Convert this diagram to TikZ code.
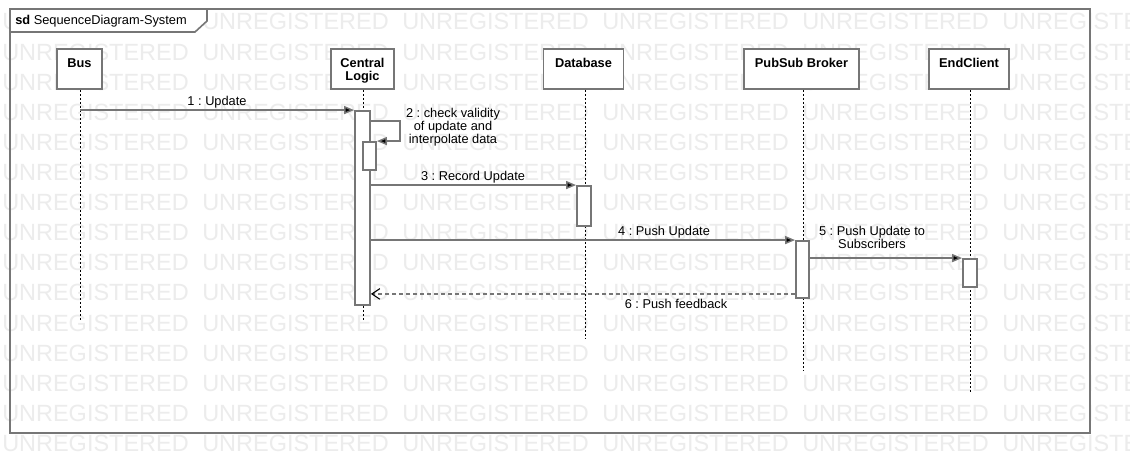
\documentclass[tikz,border=0pt]{standalone}
\usepackage{fontspec}
\setmainfont{Liberation Sans}
\usetikzlibrary{arrows.meta,calc}
\definecolor{lg}{RGB}{118,118,118}
\definecolor{wmc}{RGB}{236,236,236}
\frenchspacing
\begin{document}
\begin{tikzpicture}[x=0.75pt,y=-0.75pt,
  lbl/.style={font=\fontsize{9.6pt}{9.75pt}\selectfont, inner sep=0pt, align=center, text=black},
  headbox/.style={draw=lg, fill=white, line width=1.4pt, inner sep=0pt, minimum height=30pt},
  headtext/.style={font=\fontsize{9.6pt}{9.75pt}\selectfont\bfseries, inner sep=0pt, align=center},
  actbox/.style={draw=lg, fill=white, line width=1.4pt, inner sep=0pt},
  lifeline/.style={draw=black, line width=0.75pt, dash pattern=on 1.5pt off 1.5pt},
  msg/.style={draw=lg, line width=1.1pt, -{Triangle[length=7.5pt,width=6pt,fill=black]}},
  retmsg/.style={draw=lg, line width=1.1pt, dash pattern=on 3pt off 2.25pt, -{Straight Barb[length=6pt,width=8pt,line width=0.8pt,black]}},
  wmark/.style={font=\fontsize{17.6pt}{18pt}\selectfont, text=wmc, inner sep=0pt, anchor=base west}
]
\useasboundingbox (0,0) rectangle (1130,474);
\fill[white] (0,0) rectangle (1130,474);
% watermark
\begin{scope}
\clip (0,0) rectangle (1130,474);
\foreach \k in {0,...,14}{
  \foreach \j in {0,...,5}{
    \node[wmark] (wm-\j-\k) at ({2+200*\j},{30+30.1*\k}) {UNREGISTERED};
  }
}
\end{scope}
% frame
\draw[lg, line width=1.5pt] (10,9) rectangle (1090,433);
\filldraw[draw=lg, fill=white, line width=1.2pt] (10,9) -- (10,32) -- (195,32) -- (207,21) -- (207,9) -- cycle;
\node[lbl, anchor=base west] (title) at (15,25) {{\bfseries sd}\ SequenceDiagram-System};
% heads
\node[headbox, minimum width=33.75pt] (bus) at (79.5,69) {};
\node[headbox, minimum width=47.25pt] (cl) at (362.5,69) {};
\node[headbox, minimum width=60pt] (db) at (583.5,69) {};
\node[headbox, minimum width=86.25pt] (pb) at (801.5,69) {};
\node[headbox, minimum width=60pt] (ec) at (969,69) {};
\node[headtext] (bust) at ($(bus.north)+(0,15)$) {Bus};
\node[headtext] (clt) at ($(cl.north)+(0,22.5)$) {Central\\Logic};
\node[headtext] (dbt) at ($(db.north)+(0,15)$) {Database};
\node[headtext] (pbt) at ($(pb.north)+(0,15)$) {PubSub Broker};
\node[headtext] (ect) at ($(ec.north)+(0,15)$) {EndClient};
% lifelines
\coordinate (busend) at (80,320);
\coordinate (clend) at (363,320);
\coordinate (dbend) at (585,338);
\coordinate (pbend) at (803,370);
\coordinate (ecend) at (970,393);
\draw[lifeline] (bus.south -| busend) -- (busend);
\draw[lifeline] (cl.south -| clend) -- (clend);
\draw[lifeline] (db.south -| dbend) -- (dbend);
\draw[lifeline] (pb.south -| pbend) -- (pbend);
\draw[lifeline] (ec.south -| ecend) -- (ecend);
% activations
\node[actbox, minimum width=11.25pt, minimum height=145.5pt] (cl1) at (362.5,208) {};
\node[actbox, minimum width=9.75pt, minimum height=21pt] (cl2) at (369.5,156) {};
\node[actbox, minimum width=10.5pt, minimum height=30pt] (db1) at (584,206) {};
\node[actbox, minimum width=9.75pt, minimum height=42.75pt] (pb1) at (802.5,269.5) {};
\node[actbox, minimum width=10.5pt, minimum height=21pt] (ec1) at (970,273) {};
% messages
\draw[msg] (busend |- cl1.north west) -- (cl1.north west);
\node[lbl] (l1) at (217,102.5) {1 : Update};
\coordinate (m2s) at ($(cl1.north east)+(0,11)$);
\coordinate (m2c) at ($(cl2.north east)+(23,0)$);
\draw[msg] (m2s) -| (m2c) -- (cl2.north east);
\node[lbl] (l2) at (453,127) {2 : check validity\\of update and\\interpolate data};
\draw[msg] (cl1.east |- db1.north west) -- (db1.north west);
\node[lbl] (l3) at (473,177.5) {3 : Record Update};
\draw[msg] (cl1.east |- pb1.north west) -- (pb1.north west);
\node[lbl] (l4) at (664,232.5) {4 : Push Update};
\draw[msg] (pb1.east |- ec1.north west) -- (ec1.north west);
\node[lbl] (l5) at (872,237.5) {5 : Push Update to\\Subscribers};
\coordinate (m6s) at ($(pb1.south west)+(0,-5)$);
\draw[retmsg] (m6s) -- (m6s -| cl1.east);
\node[lbl] (l6) at (676,303.5) {6 : Push feedback};
\end{tikzpicture}
\end{document}
